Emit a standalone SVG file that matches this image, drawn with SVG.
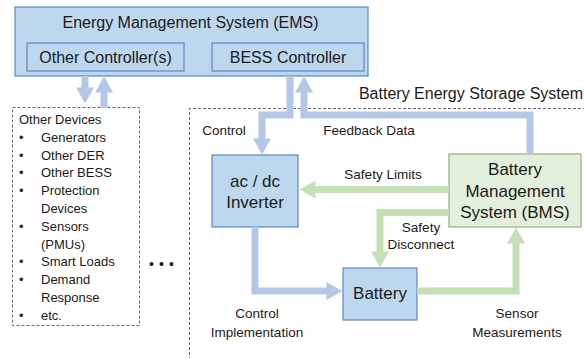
<svg xmlns="http://www.w3.org/2000/svg" width="584" height="358" viewBox="0 0 584 358">
<style>
text{font-family:"Liberation Sans",Arial,sans-serif;fill:#1a1a1a}
.big{font-size:16px}
.node{font-size:17px;text-anchor:middle}
.lbl{font-size:13.5px;text-anchor:middle}
.lst{font-size:13px}
.bluebox{fill:#bdd7ee;stroke:#5b87c6;stroke-width:1.2}
.greenbox{fill:#e2efda;stroke:#8fb07a;stroke-width:1.2}
.dash{fill:none;stroke:#666;stroke-width:1;stroke-dasharray:3 2}
.ab{fill:none;stroke:#b4c7e7;stroke-width:7;stroke-linejoin:miter}
.ag{fill:none;stroke:#c5e0b4;stroke-width:7;stroke-linejoin:miter}
</style>
<defs>
<marker id="hb" markerUnits="userSpaceOnUse" markerWidth="16" markerHeight="18" refX="0.5" refY="9" orient="auto" overflow="visible"><path d="M0,0 L16,9 L0,18 Z" fill="#b4c7e7"/></marker>
<marker id="hg" markerUnits="userSpaceOnUse" markerWidth="16" markerHeight="18" refX="0.5" refY="9" orient="auto" overflow="visible"><path d="M0,0 L16,9 L0,18 Z" fill="#c5e0b4"/></marker>
</defs>

<g id="ems">
<rect class="bluebox" x="15" y="7" width="353" height="69"/>
<text class="big" x="190.5" y="28" text-anchor="middle">Energy Management System (EMS)</text>
</g>
<g id="other-controllers">
<rect class="bluebox" x="27" y="43" width="157" height="28"/>
<text class="big" x="105.5" y="63" text-anchor="middle">Other Controller(s)</text>
</g>
<g id="bess-controller">
<rect class="bluebox" x="212" y="43" width="152" height="28"/>
<text class="big" x="288" y="63" text-anchor="middle">BESS Controller</text>
</g>

<g id="other-devices">
<rect class="dash" x="12.5" y="107.5" width="127" height="218"/>
<text class="lst" x="19" y="124">Other Devices</text>
<text class="lst" x="19" y="141.8">•</text><text class="lst" x="41" y="141.8">Generators</text>
<text class="lst" x="19" y="159.6">•</text><text class="lst" x="41" y="159.6">Other DER</text>
<text class="lst" x="19" y="177.4">•</text><text class="lst" x="41" y="177.4">Other BESS</text>
<text class="lst" x="19" y="195.2">•</text><text class="lst" x="41" y="195.2">Protection</text>
<text class="lst" x="41" y="213">Devices</text>
<text class="lst" x="19" y="230.8">•</text><text class="lst" x="41" y="230.8">Sensors</text>
<text class="lst" x="41" y="248.6">(PMUs)</text>
<text class="lst" x="19" y="266.4">•</text><text class="lst" x="41" y="266.4">Smart Loads</text>
<text class="lst" x="19" y="284.2">•</text><text class="lst" x="41" y="284.2">Demand</text>
<text class="lst" x="41" y="302">Response</text>
<text class="lst" x="19" y="319.8">•</text><text class="lst" x="41" y="319.8">etc.</text>
</g>
<g id="ellipsis">
<text x="149" y="269" style="font-size:14px;letter-spacing:5.1px">•••</text>
</g>

<g id="bess">
<path class="dash" d="M189.5,360 V108.5 H584"/>
<text class="big" x="471" y="99" text-anchor="middle">Battery Energy Storage System</text>
</g>

<g id="inverter">
<rect class="bluebox" x="212" y="155" width="86" height="72"/>
<text class="node" x="255" y="187">ac / dc</text>
<text class="node" x="255" y="208">Inverter</text>
</g>
<g id="bms">
<rect class="greenbox" x="449" y="154" width="132" height="73"/>
<text class="node" x="515" y="175">Battery</text>
<text class="node" x="515" y="197">Management</text>
<text class="node" x="515" y="218">System (BMS)</text>
</g>
<g id="battery">
<rect class="bluebox" x="343" y="268" width="74" height="52"/>
<text class="node" x="380" y="299">Battery</text>
</g>

<g id="connectors">
<path class="ab" d="M85,76 V88" marker-end="url(#hb)"/>
<path class="ab" d="M104,108 V92" marker-end="url(#hb)"/>
<path class="ab" d="M290,76 V115 H262 V139" marker-end="url(#hb)"/>
<path class="ab" d="M530,154 V115 H304 V92" marker-end="url(#hb)"/>
<path class="ab" d="M255,227 V291 H327" marker-end="url(#hb)"/>
<path class="ag" d="M449,189.5 H315" marker-end="url(#hg)"/>
<path class="ag" d="M449,212.5 H380 V252" marker-end="url(#hg)"/>
<path class="ag" d="M417,291 H516 V243" marker-end="url(#hg)"/>
<text class="lbl" x="224" y="135">Control</text>
<text class="lbl" x="369" y="135">Feedback Data</text>
<text class="lbl" x="383" y="179">Safety Limits</text>
<text class="lbl" x="421" y="232">Safety</text>
<text class="lbl" x="421" y="249">Disconnect</text>
<text class="lbl" x="257" y="318">Control</text>
<text class="lbl" x="257" y="337">Implementation</text>
<text class="lbl" x="517" y="318">Sensor</text>
<text class="lbl" x="517" y="337">Measurements</text>
</g>
</svg>
